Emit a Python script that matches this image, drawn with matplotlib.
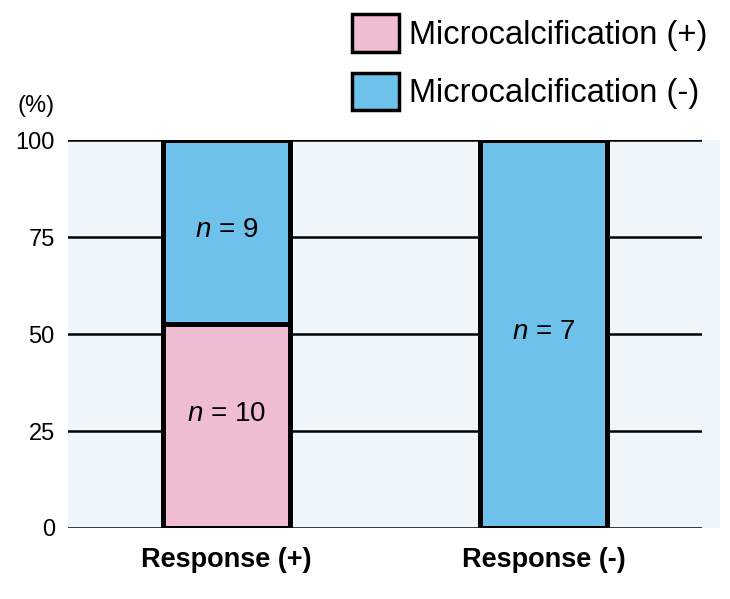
import matplotlib.pyplot as plt
from matplotlib.patches import Patch, Rectangle

plt.rcParams['font.family'] = ['Liberation Sans', 'DejaVu Sans']
plt.rcParams['mathtext.fontset'] = 'custom'
plt.rcParams['mathtext.rm'] = 'Liberation Sans'
plt.rcParams['mathtext.it'] = 'Liberation Sans:italic'

groups = ['Response (+)', 'Response (-)']
calc_pos = [10, 0]   # Microcalcification (+) counts
calc_neg = [9, 7]    # Microcalcification (-) counts
y_ticks = [0, 25, 50, 75, 100]

pink = '#f0bcd4'
blue = '#6ec1ea'

totals = [a + b for a, b in zip(calc_pos, calc_neg)]
pct_pos = [100 * a / t for a, t in zip(calc_pos, totals)]
pct_neg = [100 * b / t for b, t in zip(calc_neg, totals)]

fig = plt.figure(figsize=(7.3, 5.99), dpi=100)
ax = fig.add_axes([68 / 730, 1 - 528 / 599, 634 / 730, 388 / 599])

# light background, a bit wider than the grid lines
ax.set_facecolor('none')
ax.add_patch(Rectangle((0, 0), 1.028, 1, transform=ax.transAxes,
                       facecolor='#eef5fb', edgecolor='none',
                       zorder=0, clip_on=False))

x = range(len(groups))
ax.bar(x, pct_pos, width=0.4, color=pink, edgecolor='black', linewidth=3.6, zorder=3)
ax.bar(x, pct_neg, width=0.4, bottom=pct_pos, color=blue, edgecolor='black',
       linewidth=3.6, zorder=3)

for i in x:
    if calc_pos[i] > 0:
        ax.text(i, pct_pos[i] / 2 + 3, r'$\mathit{n}$ = %d' % calc_pos[i],
                ha='center', va='center', fontsize=20, zorder=4)
    if calc_neg[i] > 0:
        ax.text(i, pct_pos[i] + pct_neg[i] / 2 + 0.5, r'$\mathit{n}$ = %d' % calc_neg[i],
                ha='center', va='center', fontsize=20, zorder=4)

ax.set_xlim(-0.5, 1.5)
ax.set_ylim(0, 100)
ax.set_yticks(y_ticks)
ax.set_yticklabels([str(t) for t in y_ticks], fontsize=17)
ax.set_xticks(list(x))
ax.set_xticklabels(groups, fontsize=19.5, fontweight='bold')
ax.tick_params(axis='y', length=0, pad=9.5)
ax.tick_params(axis='x', length=0, pad=14)
ax.yaxis.grid(True, color='black', linewidth=1.8, zorder=1)
ax.set_axisbelow(True)
for s in ax.spines.values():
    s.set_visible(False)

fig.text(36 / 730, 1 - 106 / 599, '(%)', fontsize=17, ha='center', va='center')

handles = [Patch(facecolor=pink, edgecolor='black', linewidth=2.5),
           Patch(facecolor=blue, edgecolor='black', linewidth=2.5)]
fig.legend(handles, ['Microcalcification (+)', 'Microcalcification (-)'],
           loc='upper left', bbox_to_anchor=(352 / 730, 1 - 14 / 599),
           frameon=False, fontsize=23.5, handlelength=1.45, handleheight=1.4,
           handletextpad=0.3, labelspacing=0.64, borderpad=0, borderaxespad=0)

fig.savefig('out.png', dpi=100)
